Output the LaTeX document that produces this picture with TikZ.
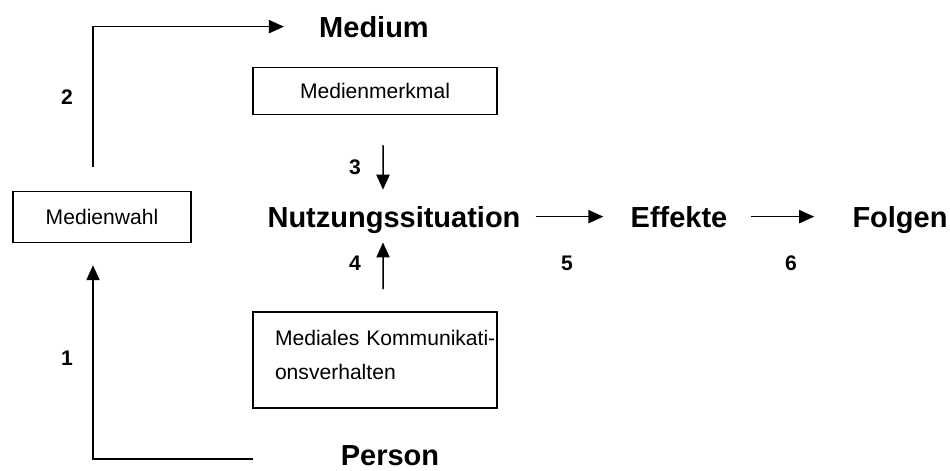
\documentclass[tikz,border=0pt]{standalone}
\usepackage{fontspec}
\setmainfont{Liberation Sans}
\usetikzlibrary{arrows.meta, positioning}

\begin{document}
\begin{tikzpicture}[
        x=0.02cm, y=-0.02cm,
        box/.style={rectangle, draw, line width=0.85pt, font=\fontsize{12}{14}\selectfont, inner sep=0pt},
        term/.style={font=\fontsize{16.5}{20}\selectfont\bfseries, anchor=base, inner sep=0pt},
        num/.style={font=\fontsize{12}{14}\selectfont\bfseries},
        arrow/.style={-{Triangle[length=8.5pt, width=7.5pt]}, line width=0.85pt}
    ]
    \useasboundingbox (0,0) rectangle (950,470);
    \node (medium) [term] at (374,37) {Medium};
    \node (nutzung) [term] at (394,227) {Nutzungssituation};
    \node (effekte) [term] at (679,227) {Effekte};
    \node (folgen) [term] at (900,227) {Folgen};
    \node (person) [term] at (390,465) {Person};
    \node (merkmal) [box, minimum width=4.88cm, minimum height=0.94cm] at (375,91) {Medienmerkmal};
    \node (wahl) [box, minimum width=3.56cm, minimum height=1.02cm] at (102,217) {Medienwahl};
    \node (mediales) [box, font=\fontsize{12}{19.3}\selectfont, text width=4.88cm, text depth=25pt, align=left, minimum height=1.92cm] at (375,360) {\hspace*{0.44cm}Mediales Kommunikati-\\\hspace*{0.44cm}onsverhalten};
    \node (n1) [num] at (67,358) {1};
    \node (n2) [num] at (67,97) {2};
    \node (n3) [num] at (355,167) {3};
    \node (n4) [num] at (355,263) {4};
    \node (n5) [num] at (567,263) {5};
    \node (n6) [num] at (791,263) {6};
    \coordinate (p1) at (253,459);
    \draw [arrow] (p1) -| ([xshift=-0.18cm, yshift=-0.44cm]wahl.south);
    \draw [arrow, shorten >=0.7cm] ([xshift=-0.18cm, yshift=0.48cm]wahl.north) |- (medium.west);
    \draw [arrow] ([xshift=0.16cm, yshift=-0.6cm]merkmal.south) -- ([xshift=-0.22cm, yshift=0.32cm]nutzung.north);
    \draw [arrow] ([xshift=0.16cm, yshift=0.44cm]mediales.north) -- ([xshift=-0.22cm, yshift=-0.18cm]nutzung.south);
    \draw [arrow, shorten <=0.3cm, shorten >=0.54cm] (nutzung.east |- effekte.west) -- (effekte.west);
    \draw [arrow, shorten <=0.46cm, shorten >=0.76cm] (effekte.east) -- (effekte.east -| folgen.west);
\end{tikzpicture}
\end{document}
